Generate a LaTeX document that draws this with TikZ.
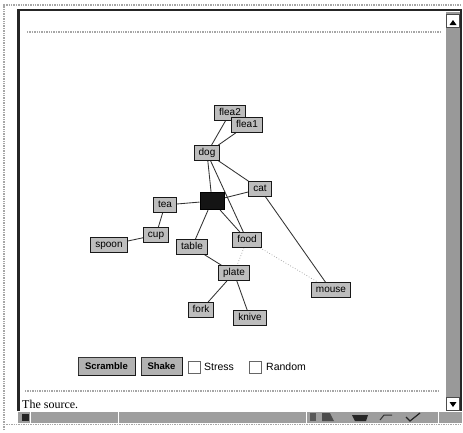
\documentclass[tikz,border=0pt]{standalone}
\usepackage{fontspec}
\setmainfont{Liberation Serif}
\newfontfamily\guifont{Liberation Sans}
\usetikzlibrary{positioning}
\pgfdeclarelayer{background}
\pgfdeclarelayer{edgelayer}
\pgfsetlayers{background,edgelayer,main}

\tikzset{
  gnode/.style={draw=black!90, fill=black!26, line width=1pt,
    font=\guifont\fontsize{10}{11}\selectfont, inner xsep=4.5pt, inner ysep=2.6pt,
    text height=7.4pt, text depth=2pt},
  hubnode/.style={draw=black, fill=black!92, line width=1pt,
    minimum width=24pt, minimum height=17pt, inner sep=0pt},
  gedge/.style={draw=black!80, line width=0.85pt},
  weakedge/.style={draw=black!40, line width=0.7pt, dotted},
  btn/.style={draw=black!80, fill=black!30, line width=0.8pt,
    font=\guifont\bfseries\fontsize{9.5}{11}\selectfont, minimum height=18pt, inner sep=0pt},
  chk/.style={draw=black!60, fill=white, line width=0.7pt, minimum size=12pt, inner sep=0pt},
  lbl/.style={font=\guifont\fontsize{10.5}{12}\selectfont, inner sep=0pt, anchor=west},
  dith/.style={draw=black!35, line width=1.4pt, densely dotted},
}

\begin{document}
\begin{tikzpicture}[x=1pt, y=-1pt]
\useasboundingbox (0,0) rectangle (463,432);
\begin{pgfonlayer}{background}
  \fill[white] (0,0) rectangle (463,432);
\end{pgfonlayer}

% outer window frame
\draw[dith] (4,430) -- (4,5) -- (462,5);
\fill[black!85] (17,9) rectangle (20,411);
\fill[black!85] (17,8.5) rectangle (462,11);
\fill[black!85] (460,9) rectangle (462,411);

% vertical scroll bar
\fill[black!40] (446,12) rectangle (460,411);
\node[draw=black!70, fill=white, line width=0.6pt, minimum width=13pt, minimum height=13pt, inner sep=0pt] (upbtn) at (453,20.5) {};
\fill[black] ([yshift=-3pt]upbtn.center) ++(-3.5,1.5) -- ++(7,0) -- ++(-3.5,-5) -- cycle;
\node[draw=black!70, fill=white, line width=0.6pt, minimum width=13pt, minimum height=13pt, inner sep=0pt] (dnbtn) at (453,404) {};
\fill[black] (dnbtn.center) ++(-3.5,-2) -- ++(7,0) -- ++(-3.5,5) -- cycle;

% horizontal rules
\draw[dith, line width=1.2pt] (27,32) -- (442,32);
\draw[dith, line width=1.2pt] (25,391) -- (440,391);

% footer text
\node[anchor=base west, inner sep=0pt, font=\fontsize{12}{14}\selectfont] (src) at (22,408.5) {The source.};

% status bar
\fill[black!38] (18,411.5) rectangle (462,423);
\draw[dith, line width=0.8pt] (4,424.5) -- (462,424.5);
\draw[white, line width=0.8pt] (30,411) -- (30,423) (118,411) -- (118,423) (306,411) -- (306,423) (438,411) -- (438,423);
\fill[black!85] (22,414) rectangle (29,421);
\fill[black!65] (310,413) rectangle (316,421);
\fill[black!70] (322,413) -- (330,413) -- (334,421) -- (322,421) -- cycle;
\fill[black!85] (352,415) -- (368,415) -- (366,421) -- (355,421) -- cycle;
\draw[black!80, line width=1pt] (380,420) -- (384,415) -- (392,415);
\draw[black!85, line width=1.2pt] (406,417) -- (410,421) -- (420,413);

% graph nodes
\node[gnode] (flea2) at (230,113) {flea2};
\node[gnode] (flea1) at (247,125) {flea1};
\node[gnode] (dog)   at (207,153) {dog};
\node[gnode] (cat)   at (260,189) {cat};
\node[hubnode] (hub) at (212,201) {};
\node[gnode] (tea)   at (165,205) {tea};
\node[gnode] (cup)   at (156,235) {cup};
\node[gnode] (spoon) at (109,245) {spoon};
\node[gnode] (table) at (192,247) {table};
\node[gnode] (food)  at (247,240) {food};
\node[gnode] (plate) at (234,273) {plate};
\node[gnode] (mouse) at (331,290) {mouse};
\node[gnode] (fork)  at (201,310) {fork};
\node[gnode] (knive) at (250,318) {knive};

% graph edges
\begin{pgfonlayer}{edgelayer}
  \draw[gedge] (flea2) -- (dog);
  \draw[gedge] (flea1) -- (dog);
  \draw[gedge] (dog) -- (hub);
  \draw[gedge] (dog) -- (food);
  \draw[gedge] (dog) -- (cat);
  \draw[gedge] (hub) -- (cat);
  \draw[gedge] (hub) -- (tea);
  \draw[gedge] (hub) -- (table);
  \draw[gedge] (hub) -- (food);
  \draw[gedge] (tea) -- (cup);
  \draw[gedge] (cup) -- (spoon);
  \draw[gedge] (table) -- (plate);
  \draw[gedge] (cat) -- (mouse);
  \draw[weakedge] (food) -- (plate);
  \draw[weakedge] (food) -- (mouse);
  \draw[gedge] (plate) -- (fork);
  \draw[gedge] (plate) -- (knive);
\end{pgfonlayer}

% control panel
\node[btn, minimum width=57pt] (scramble) at (106.5,366) {Scramble};
\node[btn, minimum width=41pt] (shake) at (161.5,366) {Shake};
\draw[black!90, line width=1pt] (scramble.north east) -- (scramble.south east) -- (scramble.south west);
\draw[black!90, line width=1pt] (shake.north east) -- (shake.south east) -- (shake.south west);
\node[chk] (stressbox) at (194,367) {};
\node[lbl] (stress) at (204,367) {Stress};
\node[chk] (randombox) at (255.5,367) {};
\node[lbl] (random) at (266,367) {Random};
\end{tikzpicture}
\end{document}
